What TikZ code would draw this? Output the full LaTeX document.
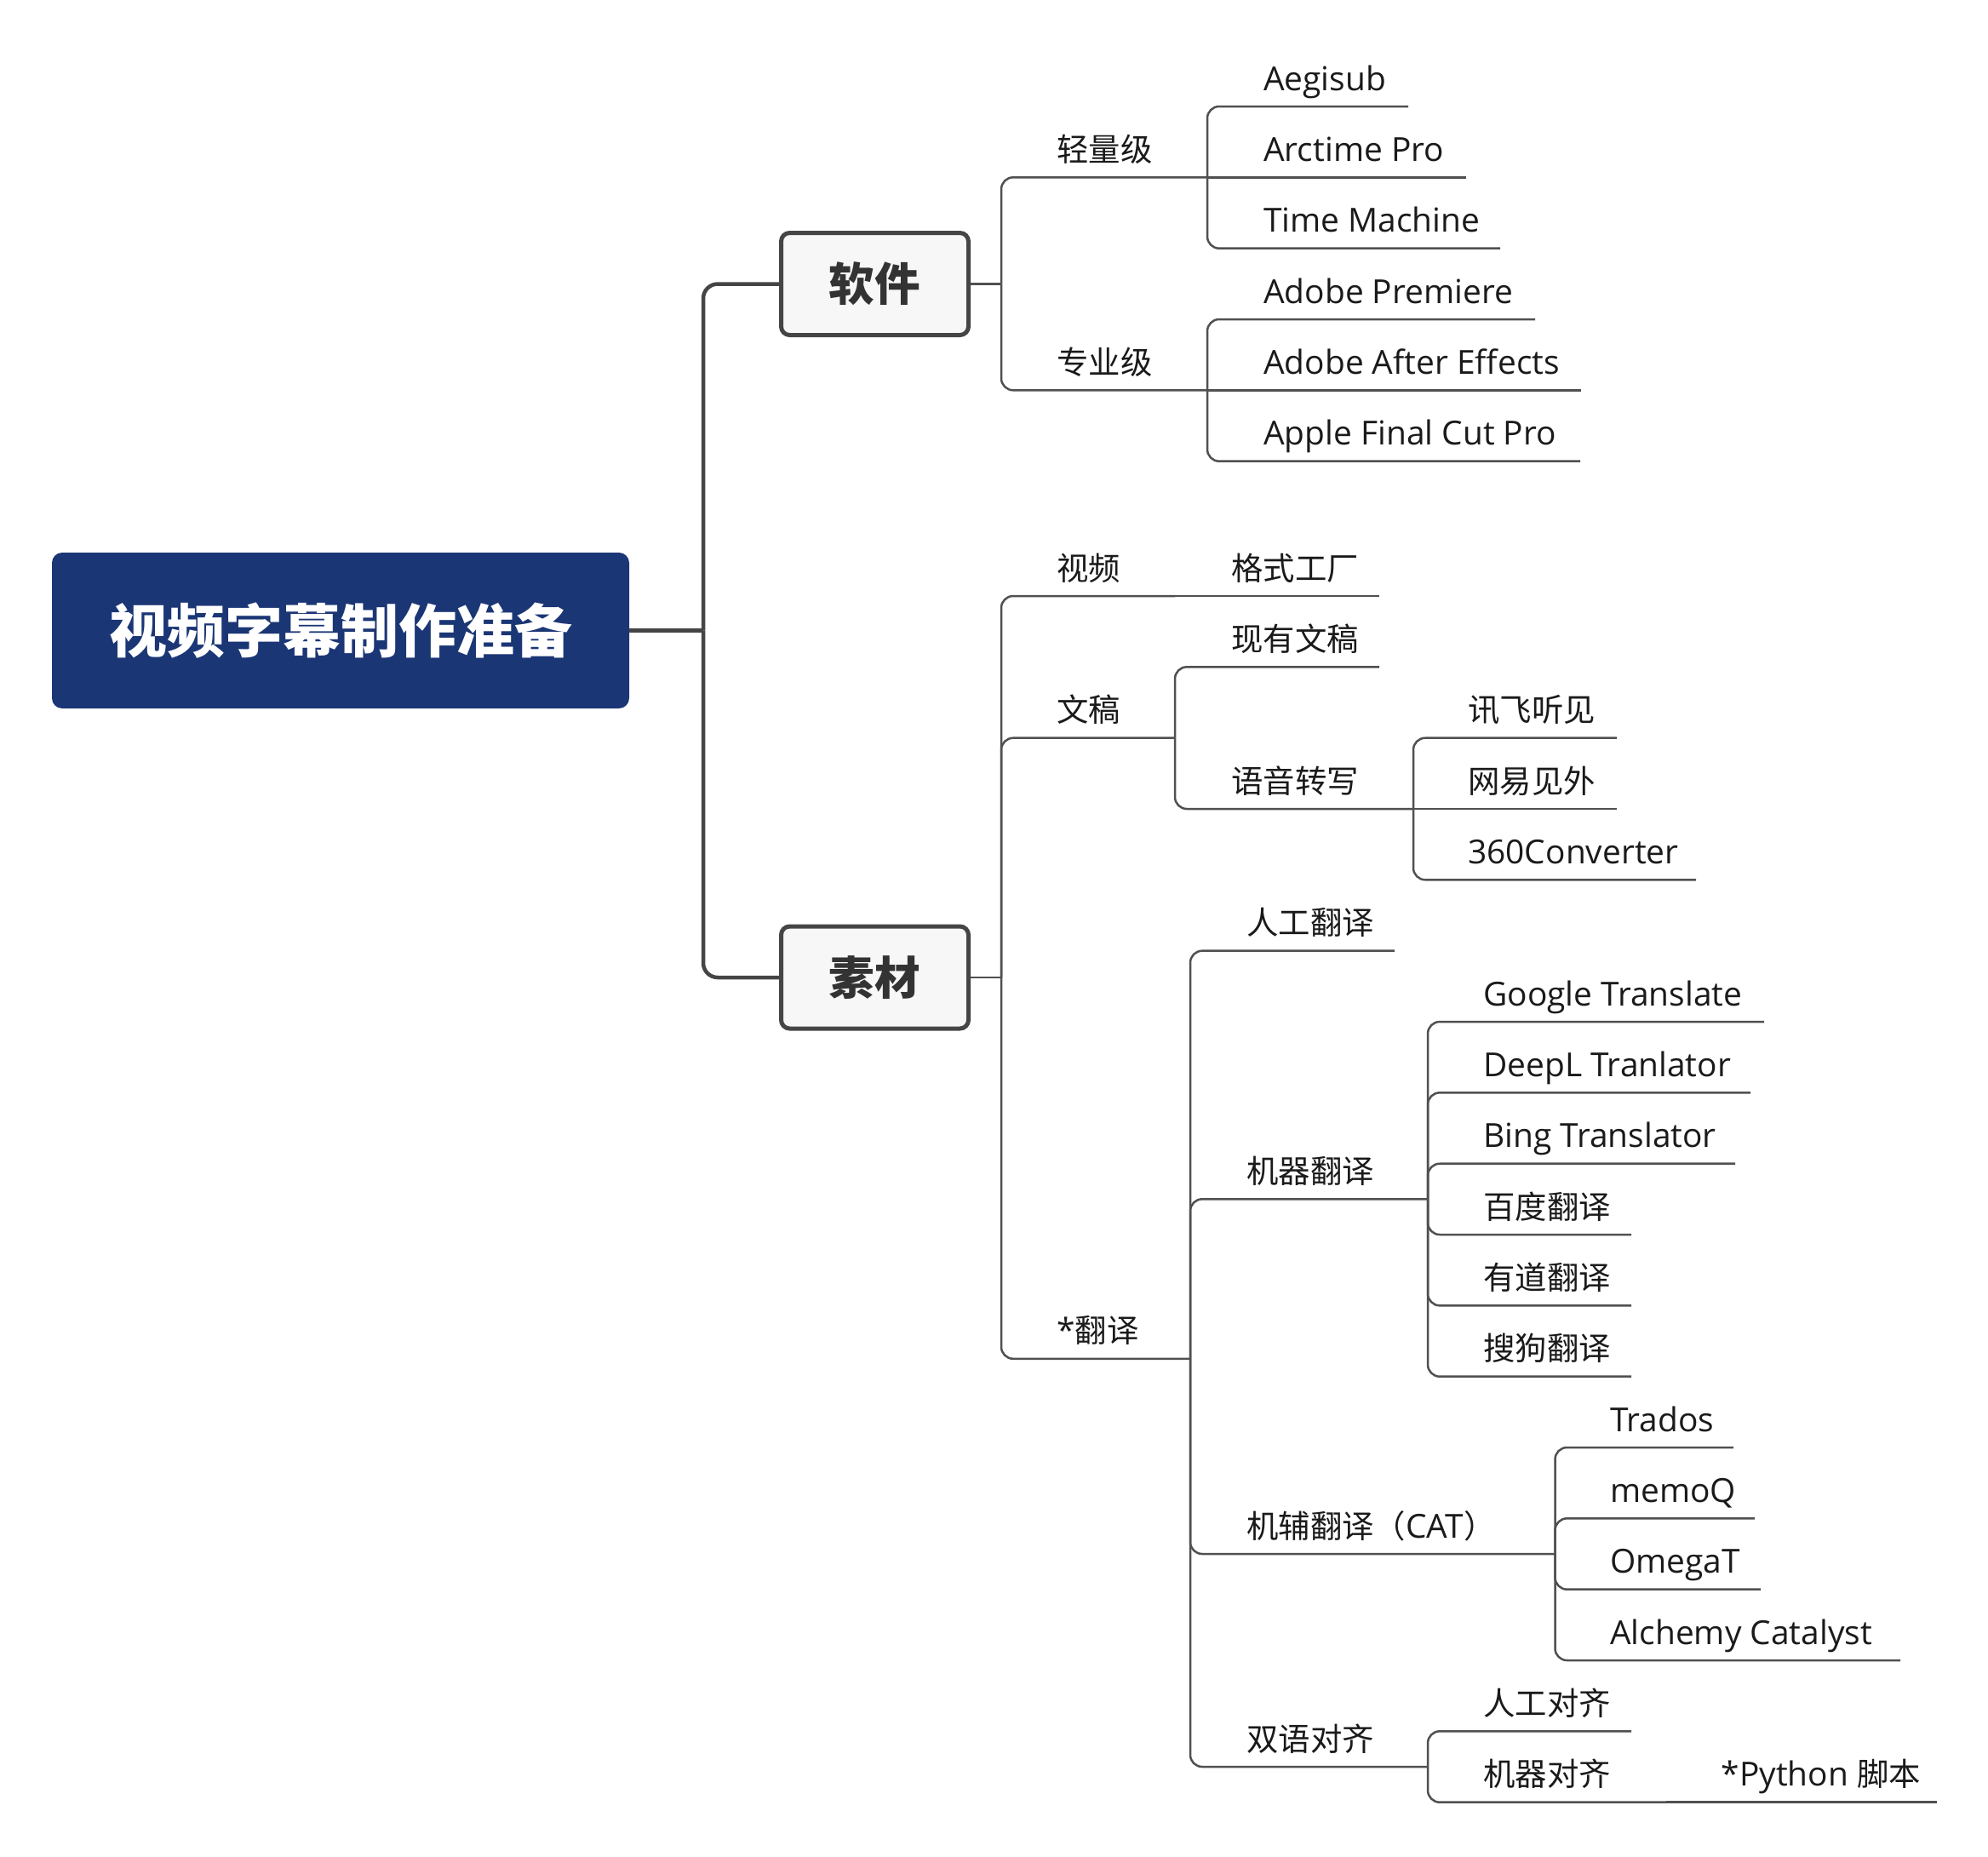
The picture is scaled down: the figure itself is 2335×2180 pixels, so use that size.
\documentclass[tikz,border=0pt]{standalone}
\usepackage{fontspec}
\setmainfont{Open Sans}[Scale=1.04]
\newfontfamily\cjk{Noto Sans CJK SC}
\newcommand\zhs[1]{{\cjk #1}}
\definecolor{rootblue}{HTML}{1B3675}
\definecolor{linegray}{HTML}{505050}
\definecolor{maingray}{HTML}{454545}
\definecolor{txt}{HTML}{1A1A1A}
\newcommand\mmleaf[5]{%
  \node[lbl] (#1) at (#2,#3-19) {#5};
  \coordinate (#1-e) at (#4,#3);}
\begin{document}
\begin{tikzpicture}[x=1pt,y=-1pt,
  lbl/.style={anchor=base west, inner sep=0pt, text=txt, font=\fontsize{37.4}{45}\selectfont},
  sub/.style={draw=linegray, line width=2.5pt, rounded corners=14pt},
  subflat/.style={draw=linegray, line width=2.5pt},
  mainline/.style={draw=maingray, line width=4.5pt, rounded corners=17pt},
  rootbox/.style={fill=rootblue, rounded corners=12pt, minimum width=678pt, minimum height=183pt, inner sep=0pt, text=white, font=\cjk\bfseries\fontsize{68}{80}\selectfont},
  topicbox/.style={draw=maingray, line width=5pt, fill=black!3, rounded corners=10pt, minimum width=220pt, minimum height=120pt, inner sep=0pt, text=black!80, font=\cjk\bfseries\fontsize{53.6}{64}\selectfont}
]
\useasboundingbox (0,0) rectangle (2335,2180);

% main topics
\node[rootbox] (root) at (400,740.5) {视频字幕制作准备};
\node[topicbox] (ruanjian) at (1027.5,333.5) {软件};
\node[topicbox] (sucai) at (1027.5,1148) {素材};
\coordinate (rt) at (826,740.5);
\coordinate (rjt) at (1176,333.5);
\coordinate (sct) at (1176,1148);

% items
\mmleaf{qing}{1241}{208.3}{1418}{\zhs{轻量级}}
\mmleaf{zhuan}{1241}{458.3}{1418}{\zhs{专业级}}
\mmleaf{aegi}{1484}{125}{1654}{Aegisub}
\mmleaf{arct}{1484}{208.3}{1722}{Arctime Pro}
\mmleaf{tmac}{1484}{291.7}{1762}{Time Machine}
\mmleaf{prem}{1484}{375}{1803}{Adobe Premiere}
\mmleaf{aeff}{1484}{458.3}{1857}{Adobe After Effects}
\mmleaf{afcp}{1484}{541.7}{1856}{Apple Final Cut Pro}
\mmleaf{shipin}{1241}{700}{1380}{\zhs{视频}}
\mmleaf{geshi}{1446}{700}{1620}{\zhs{格式工厂}}
\mmleaf{wengao}{1241}{866.7}{1380}{\zhs{文稿}}
\mmleaf{xianyou}{1446}{783.3}{1620}{\zhs{现有文稿}}
\mmleaf{yuyin}{1446}{950}{1660}{\zhs{语音转写}}
\mmleaf{xunfei}{1724}{866.7}{1899}{\zhs{讯飞听见}}
\mmleaf{wangyi}{1724}{950}{1899}{\zhs{网易见外}}
\mmleaf{cvt}{1724}{1033.3}{1992}{360Converter}
\mmleaf{fanyi}{1241}{1595.8}{1398}{*\zhs{翻译}}
\mmleaf{rengong}{1464}{1116.7}{1638}{\zhs{人工翻译}}
\mmleaf{jiqi}{1464}{1408.3}{1677}{\zhs{机器翻译}}
\mmleaf{google}{1742}{1200}{2072}{Google Translate}
\mmleaf{deepl}{1742}{1283.3}{2056}{DeepL Tranlator}
\mmleaf{bing}{1742}{1366.7}{2038}{Bing Translator}
\mmleaf{baidu}{1742}{1450}{1916}{\zhs{百度翻译}}
\mmleaf{youdao}{1742}{1533.3}{1916}{\zhs{有道翻译}}
\mmleaf{sougou}{1742}{1616.7}{1916}{\zhs{搜狗翻译}}
\mmleaf{jifu}{1464}{1825}{1826.5}{\zhs{机辅翻译（}CAT\zhs{）}}
\mmleaf{trados}{1891}{1700}{2036}{Trados}
\mmleaf{memoq}{1891}{1783.3}{2061}{memoQ}
\mmleaf{omegat}{1891}{1866.7}{2068}{OmegaT}
\mmleaf{alchemy}{1891}{1950}{2232}{Alchemy Catalyst}
\mmleaf{shuangyu}{1464}{2075}{1677}{\zhs{双语对齐}}
\mmleaf{rgdq}{1742}{2033.3}{1916}{\zhs{人工对齐}}
\mmleaf{jqdq}{1742}{2116.7}{1957}{\zhs{机器对齐}}
\mmleaf{python}{2021.5}{2116.7}{2275}{*Python \zhs{脚本}}

% main connectors
\draw[mainline] (root.east) -- (rt);
\draw[mainline] (rt) |- (ruanjian.west);
\draw[mainline] (rt) |- (sucai.west);

% topic connectors
\draw[subflat] (ruanjian.east) -- (rjt);
\foreach \c in {qing,zhuan} \draw[sub] (rjt) |- (\c-e);
\draw[subflat] (sucai.east) -- (sct);
\foreach \c in {shipin,wengao,fanyi} \draw[sub] (sct) |- (\c-e);

% sub connectors
\foreach \c in {aegi,tmac} \draw[sub] (qing-e) |- (\c-e);
\draw[subflat] (qing-e) -- (arct-e);
\foreach \c in {prem,afcp} \draw[sub] (zhuan-e) |- (\c-e);
\draw[subflat] (zhuan-e) -- (aeff-e);
\draw[subflat] (shipin-e) -- (geshi-e);
\foreach \c in {xianyou,yuyin} \draw[sub] (wengao-e) |- (\c-e);
\foreach \c in {xunfei,cvt} \draw[sub] (yuyin-e) |- (\c-e);
\draw[subflat] (yuyin-e) -- (wangyi-e);
\foreach \c in {rengong,jiqi,jifu,shuangyu} \draw[sub] (fanyi-e) |- (\c-e);
\foreach \c in {google,deepl,bing,baidu,youdao,sougou} \draw[sub] (jiqi-e) |- (\c-e);
\foreach \c in {trados,memoq,omegat,alchemy} \draw[sub] (jifu-e) |- (\c-e);
\foreach \c in {rgdq,jqdq} \draw[sub] (shuangyu-e) |- (\c-e);
\draw[subflat] (jqdq-e) -- (python-e);
\end{tikzpicture}
\end{document}
